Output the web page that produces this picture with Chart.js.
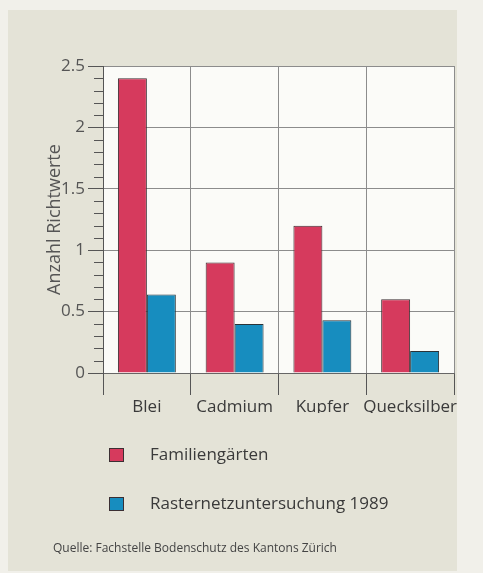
<!DOCTYPE html>
<html>
<head>
<meta charset="utf-8">
<script src="https://cdn.jsdelivr.net/npm/chart.js@4"></script>
<style>
  html, body { margin: 0; padding: 0; background: #f1f0ea; }
  canvas { display: block; }
</style>
</head>
<body>
<canvas id="c" width="483" height="573"></canvas>
<script>
// Metals with guideline exceedances
const categories = ['Blei', 'Cadmium', 'Kupfer', 'Quecksilber'];
const familiengaerten = [2.4, 0.9, 1.2, 0.6];
const rasternetz1989 = [0.64, 0.4, 0.43, 0.18];
const seriesLabels = ['Familiengärten', 'Rasternetzuntersuchung 1989'];
const yTickLabels = ['0', '0.5', '1', '1.5', '2', '2.5'];
const yTitle = 'Anzahl Richtwerte';
const sourceNote = 'Quelle: Fachstelle Bodenschutz des Kantons Zürich';

const RED = '#d63a5d';
const BLUE = '#178dbf';
const FONT = '"Open Sans", "Noto Sans", sans-serif';

const backdrop = {
  id: 'backdrop',
  beforeDraw(chart) {
    const { ctx, chartArea: a } = chart;
    ctx.save();
    ctx.fillStyle = '#f1f0ea';
    ctx.fillRect(0, 0, chart.width, chart.height);
    ctx.fillStyle = '#e4e3d7';
    ctx.fillRect(8, 10, 449, 561);
    ctx.fillStyle = '#fbfbf8';
    ctx.fillRect(a.left, a.top, a.right - a.left, a.bottom - a.top);
    ctx.restore();
  }
};

const extras = {
  id: 'extras',
  afterDraw(chart) {
    const { ctx, chartArea: a } = chart;
    const y = chart.scales.y;
    ctx.save();
    // minor ticks every 0.1 on the value axis
    ctx.strokeStyle = '#555';
    ctx.lineWidth = 1;
    for (let i = 1; i < 25; i++) {
      if (i % 5 === 0) continue;
      const py = Math.round(y.getPixelForValue(i / 10)) + 0.5;
      ctx.beginPath();
      ctx.moveTo(a.left - 9, py);
      ctx.lineTo(a.left, py);
      ctx.stroke();
    }
    // legend
    const colors = [RED, BLUE];
    const rows = [455, 504];
    chart.data.datasets.forEach((ds, i) => {
      ctx.fillStyle = colors[i];
      ctx.fillRect(109, rows[i] - 7, 15, 14);
      ctx.strokeStyle = '#3b2f33';
      ctx.strokeRect(109.5, rows[i] - 6.5, 14, 13);
      ctx.fillStyle = '#3a3a3a';
      ctx.font = '17px ' + FONT;
      ctx.textBaseline = 'middle';
      ctx.textAlign = 'left';
      ctx.fillText(ds.label, 150, rows[i]);
    });
    // source line
    ctx.font = '12px ' + FONT;
    ctx.fillStyle = '#444';
    ctx.fillText(sourceNote, 53, 549);
    ctx.restore();
  }
};

new Chart(document.getElementById('c'), {
  type: 'bar',
  data: {
    labels: categories,
    datasets: [
      { label: seriesLabels[0], data: familiengaerten, backgroundColor: RED,
        borderColor: '#3b2f33', borderWidth: 1, barPercentage: 1, categoryPercentage: 0.66 },
      { label: seriesLabels[1], data: rasternetz1989, backgroundColor: BLUE,
        borderColor: '#2b3338', borderWidth: 1, barPercentage: 1, categoryPercentage: 0.66 }
    ]
  },
  options: {
    responsive: false,
    animation: false,
    layout: { padding: { left: 40, top: 66, right: 29, bottom: 160 } },
    plugins: { legend: { display: false }, tooltip: { enabled: false } },
    scales: {
      x: {
        grid: { color: '#8c8c8c', offset: true, tickLength: 22, tickColor: '#555' },
        border: { color: '#666' },
        ticks: { font: { family: FONT, size: 17 }, color: '#3a3a3a', padding: 2,
                 autoSkip: false, maxRotation: 0, minRotation: 0 },
        afterFit(s) { s.height = 40; }
      },
      y: {
        min: 0, max: 2.5,
        grid: { color: '#8c8c8c', tickLength: 15, tickColor: '#555' },
        border: { color: '#555' },
        ticks: {
          stepSize: 0.5,
          font: { family: FONT, size: 17 }, color: '#555', padding: 3,
          callback: (v, i) => yTickLabels[i]
        },
        title: { display: true, text: yTitle, font: { family: FONT, size: 18 }, color: '#555', padding: { top: 4, bottom: 0 } },
        afterFit(s) { s.width = 63; }
      }
    }
  },
  plugins: [backdrop, extras]
});
</script>
</body>
</html>
